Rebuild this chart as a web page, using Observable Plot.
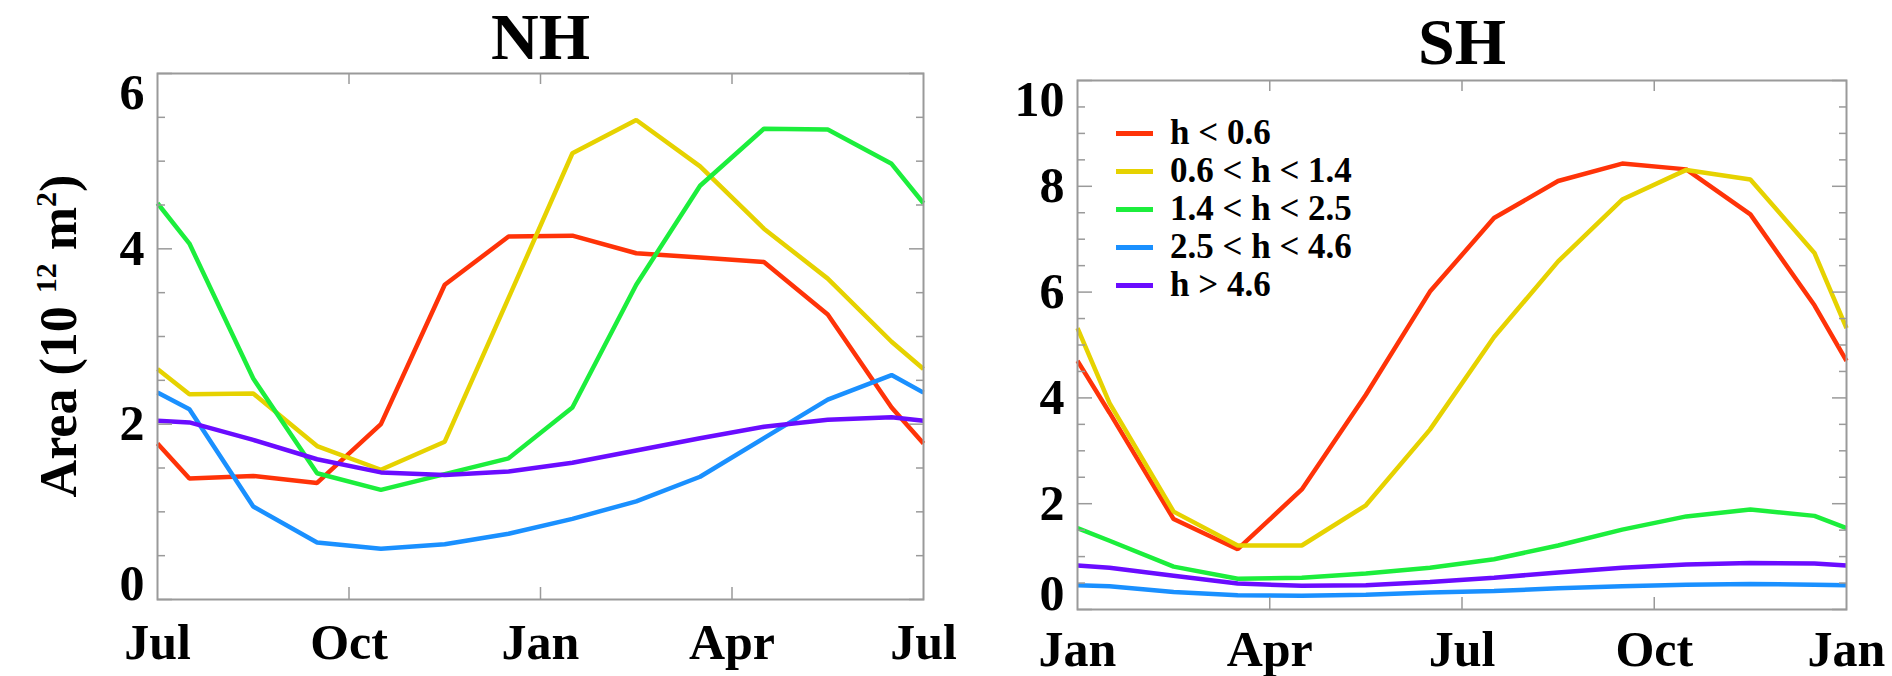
<!DOCTYPE html>
<html><head><meta charset="utf-8">
<script src="https://cdn.jsdelivr.net/npm/d3@7"></script>
<script src="https://cdn.jsdelivr.net/npm/@observablehq/plot@0.6"></script>
<style>
body{margin:0;background:#fff;}
#wrap{position:relative;width:1892px;height:676px;overflow:hidden;}
.panel{position:absolute;top:0;}
#legend{position:absolute;left:1116px;top:114px;font:bold 35px "Liberation Serif",serif;color:#000;}
.row{display:flex;align-items:center;height:38px;white-space:pre;}
.sw{width:37px;height:5px;margin-right:17px;}
</style></head><body>
<div id="wrap">
  <div id="nh" class="panel" style="left:0"></div>
  <div id="sh" class="panel" style="left:960px"></div>
  <div id="legend"></div>
</div>
<script>
// ---- data ----
const seriesNames = ["h < 0.6", "0.6 < h < 1.4", "1.4 < h < 2.5", "2.5 < h < 4.6", "h > 4.6"];
const seriesColors = ["#ff3308", "#e6d200", "#1cee3c", "#1a90ff", "#6a0cff"];
// month position (0 = start of first month, points at mid-month, edges wrap)
const monthPos = [0, 0.5, 1.5, 2.5, 3.5, 4.5, 5.5, 6.5, 7.5, 8.5, 9.5, 10.5, 11.5, 12];
const tickPos = [0, 3, 6, 9, 12];
const nhTickLabels = ["Jul", "Oct", "Jan", "Apr", "Jul"];
const shTickLabels = ["Jan", "Apr", "Jul", "Oct", "Jan"];

// NH, Jul -> Jul (10^12 m^2)
const nhH1 = [1.78, 1.38, 1.41, 1.33, 2.00, 3.59, 4.14, 4.15, 3.95, 3.90, 3.85, 3.25, 2.19, 1.78];
const nhH2 = [2.63, 2.34, 2.35, 1.75, 1.48, 1.80, 3.44, 5.09, 5.47, 4.94, 4.23, 3.66, 2.94, 2.63];
const nhH3 = [4.52, 4.06, 2.52, 1.44, 1.25, 1.43, 1.61, 2.19, 3.59, 4.72, 5.37, 5.36, 4.97, 4.52];
const nhH4 = [2.36, 2.17, 1.06, 0.65, 0.58, 0.63, 0.75, 0.92, 1.12, 1.40, 1.84, 2.28, 2.56, 2.36];
const nhH5 = [2.04, 2.02, 1.82, 1.60, 1.45, 1.42, 1.46, 1.56, 1.70, 1.84, 1.97, 2.05, 2.08, 2.04];

// SH, Jan -> Jan
const shH1 = [4.70, 3.72, 1.71, 1.14, 2.27, 4.06, 6.01, 7.40, 8.10, 8.43, 8.32, 7.47, 5.75, 4.70];
const shH2 = [5.32, 3.90, 1.85, 1.21, 1.21, 1.97, 3.40, 5.15, 6.58, 7.75, 8.31, 8.13, 6.74, 5.32];
const shH3 = [1.54, 1.30, 0.81, 0.58, 0.60, 0.68, 0.79, 0.95, 1.21, 1.51, 1.76, 1.89, 1.77, 1.54];
const shH4 = [0.46, 0.44, 0.33, 0.27, 0.26, 0.28, 0.32, 0.35, 0.40, 0.44, 0.47, 0.48, 0.47, 0.46];
const shH5 = [0.83, 0.79, 0.64, 0.49, 0.45, 0.46, 0.52, 0.60, 0.70, 0.79, 0.85, 0.88, 0.87, 0.83];

const nhSeries = [nhH1, nhH2, nhH3, nhH4, nhH5];
const shSeries = [shH1, shH2, shH3, shH4, shH5];

// ---- drawing ----
const FONT = "Liberation Serif";
const GRAY = "#9a9a9a";

function toRows(series) {
  return series.flatMap((vals, k) => vals.map((v, i) => ({x: monthPos[i], y: v, s: seriesNames[k]})));
}

function panel({width, mL, mR, mT, mB, yMax, series, tickLabels, title, titleDy, xLabelDy}) {
  const yMajor = d3.range(0, yMax + 0.01, 2);
  const yMinor = d3.range(0.5, yMax, 0.5).filter(v => v % 2 !== 0);
  const txt = {fontFamily: FONT, fontWeight: "bold", fill: "#000"};
  const tk = {tickFormat: () => "", stroke: GRAY, strokeWidth: 1.5, label: null};
  return Plot.plot({
    width, height: 676,
    marginLeft: mL, marginRight: mR, marginTop: mT, marginBottom: mB,
    x: {domain: [0, 12], axis: null},
    y: {domain: [0, yMax], axis: null},
    color: {domain: seriesNames, range: seriesColors},
    style: {background: "transparent", overflow: "visible"},
    marks: [
      Plot.line(toRows(series), {x: "x", y: "y", z: "s", stroke: "s", strokeWidth: 4.5,
        strokeLinejoin: "miter", strokeLinecap: "butt"}),
      Plot.frame({stroke: GRAY, strokeWidth: 2}),
      Plot.axisY(yMajor, {anchor: "left", tickSize: 15, dx: 15, ...tk}),
      Plot.axisY(yMinor, {anchor: "left", tickSize: 8, dx: 8, ...tk}),
      Plot.axisY(yMajor, {anchor: "right", tickSize: 15, dx: -15, ...tk}),
      Plot.axisY(yMinor, {anchor: "right", tickSize: 8, dx: -8, ...tk}),
      Plot.axisX([3, 6, 9], {anchor: "bottom", tickSize: 12, dy: -12, ...tk}),
      Plot.axisX([3, 6, 9], {anchor: "top", tickSize: 10, dy: 10, ...tk}),
      Plot.text(yMajor.filter(v => v > 0 && v < yMax), {y: d => d, text: d => String(d),
        frameAnchor: "left", dx: -13, textAnchor: "end", lineAnchor: "middle", fontSize: 50, ...txt}),
      Plot.text([yMax], {y: d => d, text: d => String(d),
        frameAnchor: "left", dx: -13, textAnchor: "end", lineAnchor: "top", fontSize: 50, ...txt}),
      Plot.text([0], {y: d => d, text: d => String(d),
        frameAnchor: "left", dx: -13, textAnchor: "end", lineAnchor: "bottom", fontSize: 50, ...txt}),
      Plot.text(tickPos, {x: d => d, text: (d, i) => tickLabels[i],
        frameAnchor: "bottom", dy: xLabelDy, lineAnchor: "top", fontSize: 50, ...txt}),
      Plot.text([title], {text: d => d, frameAnchor: "top", dy: titleDy, lineAnchor: "bottom", fontSize: 66, ...txt})
    ]
  });
}

const nh = panel({width: 960, mL: 157, mR: 37, mT: 73, mB: 77, yMax: 6, series: nhSeries,
  tickLabels: nhTickLabels, title: "NH", titleDy: -15, xLabelDy: 24});
const sh = panel({width: 932, mL: 117, mR: 46, mT: 80, mB: 67, yMax: 10, series: shSeries,
  tickLabels: shTickLabels, title: "SH", titleDy: -17, xLabelDy: 21});
document.getElementById("nh").append(nh);
document.getElementById("sh").append(sh);

// y-axis title with superscripts
const yt = d3.select(nh).append("text")
  .attr("transform", "translate(76,336) rotate(-90)")
  .attr("text-anchor", "middle")
  .style("font-family", FONT).style("font-weight", "bold").style("font-size", "52px").attr("fill", "#000");
yt.append("tspan").text("Area (10 ");
yt.append("tspan").attr("dy", -20).style("font-size", "30px").text("12");
yt.append("tspan").attr("dy", 20).text(" m");
yt.append("tspan").attr("dy", -20).style("font-size", "30px").text("2");
yt.append("tspan").attr("dy", 20).text(")");

// legend
const lg = d3.select("#legend");
seriesNames.forEach((n, i) => {
  const r = lg.append("div").attr("class", "row");
  r.append("div").attr("class", "sw").style("background", seriesColors[i]);
  r.append("span").text(n);
});
</script>
</body></html>
